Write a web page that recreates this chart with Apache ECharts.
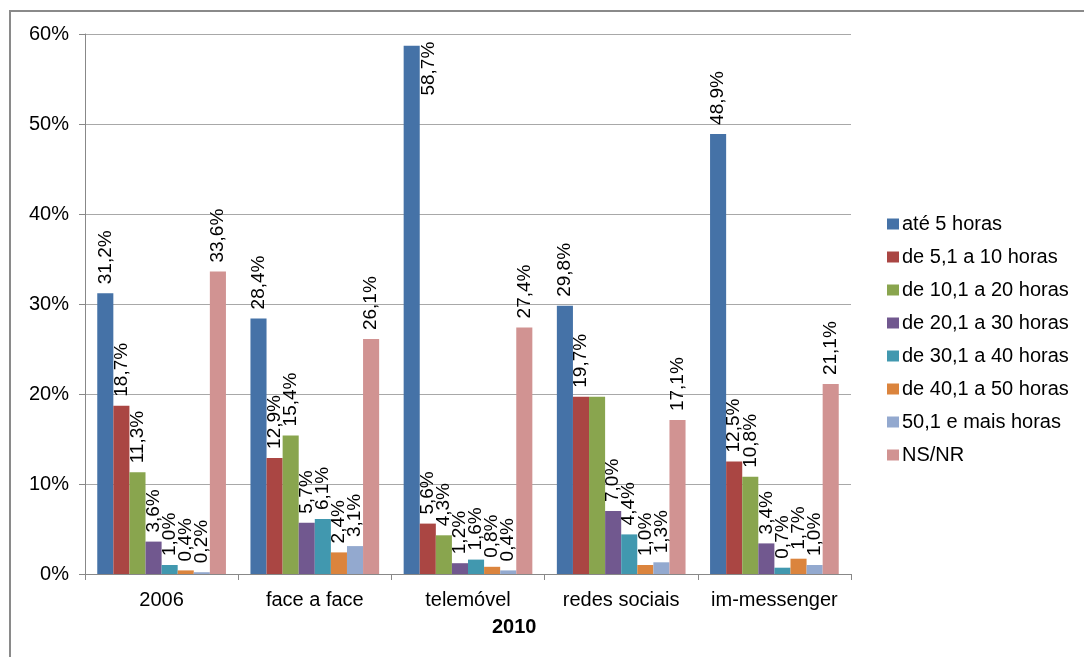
<!DOCTYPE html>
<html>
<head>
<meta charset="utf-8">
<script src="https://cdn.jsdelivr.net/npm/echarts@6/dist/echarts.min.js"></script>
<style>
html,body{margin:0;padding:0;background:#fff;}
#chart{width:1084px;height:657px;}
</style>
</head>
<body>
<div id="chart"></div>
<script>
const categories = ['2006', 'face a face', 'telemóvel', 'redes sociais', 'im-messenger'];
const seriesNames = ['até 5 horas', 'de 5,1 a 10 horas', 'de 10,1 a 20 horas', 'de 20,1 a 30 horas',
  'de 30,1 a 40 horas', 'de 40,1 a 50 horas', '50,1 e mais horas', 'NS/NR'];
const ate5 = [31.2, 28.4, 58.7, 29.8, 48.9];
const de5a10 = [18.7, 12.9, 5.6, 19.7, 12.5];
const de10a20 = [11.3, 15.4, 4.3, 19.7, 10.8];
const de20a30 = [3.6, 5.7, 1.2, 7.0, 3.4];
const de30a40 = [1.0, 6.1, 1.6, 4.4, 0.7];
const de40a50 = [0.4, 2.4, 0.8, 1.0, 1.7];
const mais50 = [0.2, 3.1, 0.4, 1.3, 1.0];
const nsnr = [33.6, 26.1, 27.4, 17.1, 21.1];
const yTicks = [0, 10, 20, 30, 40, 50, 60];
const axisTitle = '2010';

const seriesValues = [ate5, de5a10, de10a20, de20a30, de30a40, de40a50, mais50, nsnr];
const colors = ['#4572A7', '#AA4643', '#89A54E', '#71588F', '#4198AF', '#DB843D', '#93A9CF', '#D19392'];
// labels not shown in the reference (series index, category index)
const hiddenLabels = [[2, 3]];
// labels placed beside the bar (no room above)
const besideLabels = [[0, 2]];

const fmt = v => v.toFixed(1).replace('.', ',') + '%';
const FONT = '"Liberation Sans", Arial, sans-serif';

const series = seriesValues.map((vals, si) => ({
  name: seriesNames[si],
  type: 'bar',
  barGap: '0%',
  barCategoryGap: '16%',
  itemStyle: { color: colors[si] },
  label: {
    show: true,
    position: 'top',
    rotate: 90,
    align: 'left',
    verticalAlign: 'middle',
    distance: 9,
    color: '#000',
    fontFamily: FONT,
    fontSize: 19,
    formatter: p => fmt(p.value)
  },
  data: vals.map((v, ci) => {
    if (hiddenLabels.some(h => h[0] === si && h[1] === ci)) {
      return { value: v, label: { show: false } };
    }
    if (besideLabels.some(h => h[0] === si && h[1] === ci)) {
      return { value: v, label: { position: ['100%', -4], align: 'right', verticalAlign: 'top' } };
    }
    return v;
  })
}));

const chart = echarts.init(document.getElementById('chart'), null, { renderer: 'canvas' });
chart.setOption({
  animation: false,
  backgroundColor: '#fff',
  textStyle: { fontFamily: FONT },
  grid: { left: 85, right: 233, top: 34, bottom: 83, containLabel: false },
  legend: {
    orient: 'vertical',
    left: 882,
    top: 209,
    itemWidth: 12,
    itemHeight: 11,
    itemGap: 13,
    icon: 'rect',
    align: 'left',
    textStyle: { fontFamily: FONT, fontSize: 20, color: '#000', padding: [0, 0, 0, -2] },
    data: seriesNames
  },
  xAxis: {
    type: 'category',
    data: categories,
    axisLine: { lineStyle: { color: '#888', width: 1 } },
    axisTick: { show: true, length: 6, lineStyle: { color: '#888' } },
    axisLabel: { color: '#000', fontFamily: FONT, fontSize: 20, margin: 16, interval: 0 }
  },
  yAxis: {
    type: 'value',
    min: yTicks[0],
    max: yTicks[yTicks.length - 1],
    interval: 10,
    axisLine: { show: true, lineStyle: { color: '#888', width: 1 } },
    axisTick: { show: true, length: 6, lineStyle: { color: '#888' } },
    axisLabel: { color: '#000', fontFamily: FONT, fontSize: 20, margin: 16, formatter: v => v + '%' },
    splitLine: { lineStyle: { color: '#a8a8a8', width: 1 } }
  },
  graphic: [
    {
      type: 'rect',
      shape: { x: 10, y: 11, width: 1200, height: 800 },
      style: { fill: 'none', stroke: '#8a8a8a', lineWidth: 2 },
      silent: true
    },
    {
      type: 'text',
      left: 492,
      top: 617,
      style: { text: axisTitle, fontFamily: FONT, fontSize: 20, fontWeight: 'bold', fill: '#000' }
    }
  ],
  series: series
});
</script>
</body>
</html>
